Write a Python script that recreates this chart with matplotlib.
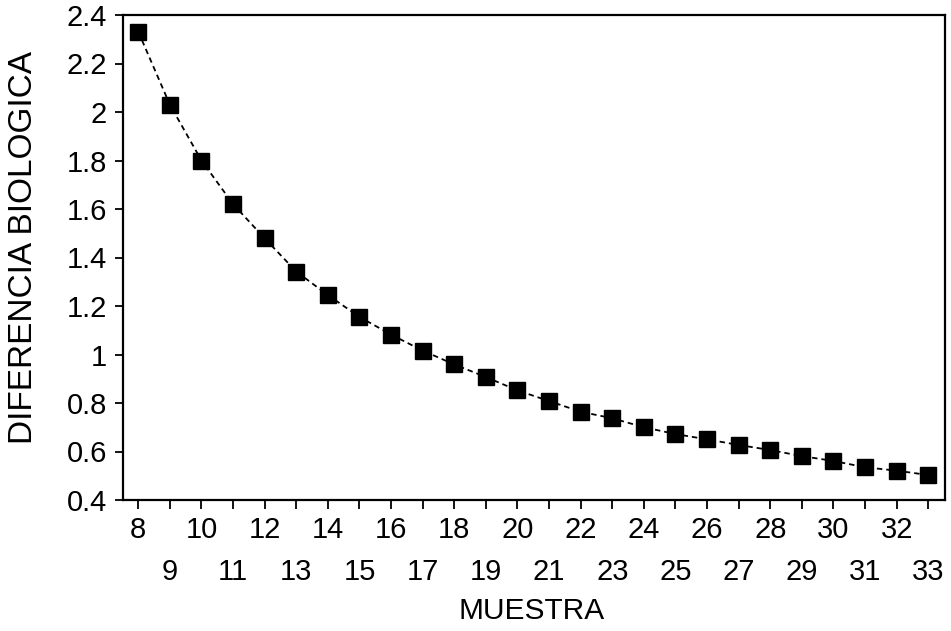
import matplotlib
matplotlib.use('Agg')
from matplotlib import pyplot as plt
from matplotlib.ticker import FixedLocator, FixedFormatter

plt.rcParams['font.family'] = ['Liberation Sans', 'DejaVu Sans']

# muestra (tamaño) y diferencia biologica
muestra = [8, 9, 10, 11, 12, 13, 14, 15, 16, 17, 18, 19, 20,
           21, 22, 23, 24, 25, 26, 27, 28, 29, 30, 31, 32, 33]
diferencia = [2.331, 2.030, 1.800, 1.620, 1.479, 1.342, 1.245, 1.155, 1.082,
              1.016, 0.959, 0.907, 0.852, 0.808, 0.764, 0.737, 0.700, 0.672,
              0.650, 0.627, 0.606, 0.581, 0.561, 0.535, 0.521, 0.503]

y_ticks = [0.4, 0.6, 0.8, 1.0, 1.2, 1.4, 1.6, 1.8, 2.0, 2.2, 2.4]
x_pares = [x for x in muestra if x % 2 == 0]
x_impares = [x for x in muestra if x % 2 == 1]

fig = plt.figure(figsize=(9.51, 6.31), dpi=100)
ax = fig.add_axes([123/951, 131/631, 822/951, 485/631])

ax.plot(muestra, diferencia, color='black', linestyle=(0, (3, 2.2)),
        linewidth=1.3, marker='s', markersize=11, markerfacecolor='black',
        markeredgecolor='black')

ax.set_xlim(7.516, 33.53)
ax.set_ylim(0.4, 2.4)

ax.set_yticks(y_ticks)
ax.set_yticklabels(['%g' % v for v in y_ticks])

ax.xaxis.set_major_locator(FixedLocator(x_pares))
ax.xaxis.set_major_formatter(FixedFormatter([str(v) for v in x_pares]))
ax.xaxis.set_minor_locator(FixedLocator(x_impares))
ax.xaxis.set_minor_formatter(FixedFormatter([str(v) for v in x_impares]))

ax.tick_params(axis='x', which='major', direction='out', length=6.5, width=1.3,
               pad=5, labelsize=21)
ax.tick_params(axis='x', which='minor', direction='out', length=6.5, width=1.3,
               pad=35, labelsize=21)
ax.tick_params(axis='y', direction='out', length=6, width=1.3, pad=5.5,
               labelsize=21)

for s in ax.spines.values():
    s.set_linewidth(1.6)

fig.text(24/951, 1 - 247/631, 'DIFERENCIA BIOLOGICA', rotation=90,
         ha='center', va='center', fontsize=24)
fig.text(532/951, 1 - 611/631, 'MUESTRA', ha='center', va='center',
         fontsize=21.5)

fig.savefig('out.png', dpi=100)
